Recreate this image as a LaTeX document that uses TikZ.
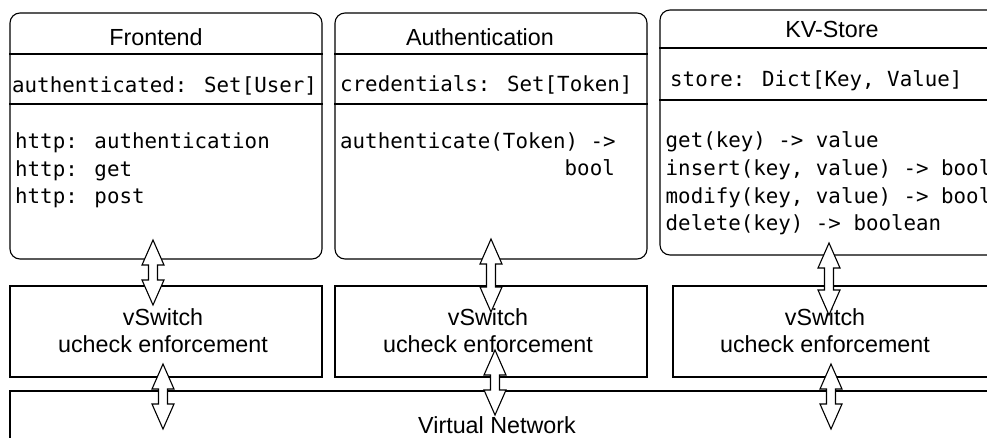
\documentclass[tikz,border=0pt]{standalone}
\usepackage{fontspec}
\setmainfont{Liberation Sans}
\newfontfamily\monof{DejaVu Sans Mono}
\usetikzlibrary{calc}
\newcommand\blkarrow[2]{%
  \draw[blockarrow] (#1) -- ++(11,25) -- ++(-6.5,0) -- ($(#2)+(4.5,-25)$) -- ++(6.5,0)
    -- (#2) -- ++(-11,-25) -- ++(6.5,0) -- ($(#1)+(-4.5,25)$) -- ++(-6.5,0) -- cycle;}
\begin{document}
\begin{tikzpicture}[x=1pt,y=-1pt,
  umlbox/.style={draw, line width=1.1pt, rounded corners=10pt, fill=white, inner sep=0pt},
  swbox/.style={draw, line width=2.4pt, fill=white, inner sep=0pt},
  divider/.style={line width=1.1pt},
  titletxt/.style={font=\fontsize{23.3}{28}\selectfont, inner sep=0pt, anchor=base},
  codetxt/.style={font=\monof\fontsize{20.8}{27.5}\selectfont, inner sep=0pt, anchor=base west},
  blockarrow/.style={draw, fill=white, line width=1.1pt, line join=miter},
]
\path[use as bounding box] (0,0) rectangle (987,437);
\clip (0,0) rectangle (987,437);

% component boxes
\node[umlbox, minimum width=312pt, minimum height=246pt] (fe) at (166,136) {};
\node[umlbox, minimum width=312pt, minimum height=246pt] (au) at (491,136) {};
\node[umlbox, minimum width=344pt, minimum height=245pt] (kv) at (832,132.5) {};

\draw[divider] (fe.west |- 0,54) -- (fe.east |- 0,54);
\draw[divider] (fe.west |- 0,104) -- (fe.east |- 0,104);
\draw[divider] (au.west |- 0,54) -- (au.east |- 0,54);
\draw[divider] (au.west |- 0,104) -- (au.east |- 0,104);
\draw[divider] (kv.west |- 0,48) -- (kv.east |- 0,48);
\draw[divider] (kv.west |- 0,100) -- (kv.east |- 0,100);

% titles
\node[titletxt] (fet) at (156,45) {Frontend};
\node[titletxt] (aut) at (480,45) {Authentication};
\node[titletxt] (kvt) at (832,37) {KV-Store};

% attributes and methods
\node[codetxt] (fea) at (12,92) {authenticated: Set[User]};
\node[codetxt] (fem1) at (15,148) {http: authentication};
\node[codetxt] (fem2) at (15,176) {http: get};
\node[codetxt] (fem3) at (15,203) {http: post};

\node[codetxt] (aua) at (340,91) {credentials: Set[Token]};
\node[codetxt] (aum1) at (340,148) {authenticate(Token) ->};
\node[codetxt, anchor=base east] (aum2) at (615,175) {bool};

\node[codetxt] (kva) at (670,86) {store: Dict[Key, Value]};
\node[codetxt] (kvm1) at (665.5,147) {get(key) -> value};
\node[codetxt] (kvm2) at (665.5,175) {insert(key, value) -> bool};
\node[codetxt] (kvm3) at (665.5,203) {modify(key, value) -> bool};
\node[codetxt] (kvm4) at (665.5,230) {delete(key) -> boolean};

% vSwitches
\node[swbox, minimum width=312pt, minimum height=91pt] (sw1) at (166,331.5) {};
\node[swbox, minimum width=312pt, minimum height=91pt] (sw2) at (491,331.5) {};
\node[swbox, minimum width=340pt, minimum height=91pt] (sw3) at (843,331.5) {};
\node[titletxt] (sw1a) at (163,325) {vSwitch};
\node[titletxt] (sw1b) at (163,352) {ucheck enforcement};
\node[titletxt] (sw2a) at (488,325) {vSwitch};
\node[titletxt] (sw2b) at (488,352) {ucheck enforcement};
\node[titletxt] (sw3a) at (825,325) {vSwitch};
\node[titletxt] (sw3b) at (825,352) {ucheck enforcement};

% virtual network
\node[swbox, minimum width=1000pt, minimum height=80pt] (vn) at (510,431) {};
\node[titletxt] (vnt) at (497,433) {Virtual Network};

% block arrows
\coordinate (a1t) at (153,240); \coordinate (a1b) at (153,305);
\coordinate (a2t) at (491,239); \coordinate (a2b) at (491,312);
\coordinate (a3t) at (829,243); \coordinate (a3b) at (829,315);
\coordinate (b1t) at (163,364); \coordinate (b1b) at (163,429);
\coordinate (b2t) at (495,350); \coordinate (b2b) at (495,415);
\coordinate (b3t) at (831,364); \coordinate (b3b) at (831,429);
\blkarrow{a1t}{a1b}
\blkarrow{a2t}{a2b}
\blkarrow{a3t}{a3b}
\blkarrow{b1t}{b1b}
\blkarrow{b2t}{b2b}
\blkarrow{b3t}{b3b}
\end{tikzpicture}
\end{document}
